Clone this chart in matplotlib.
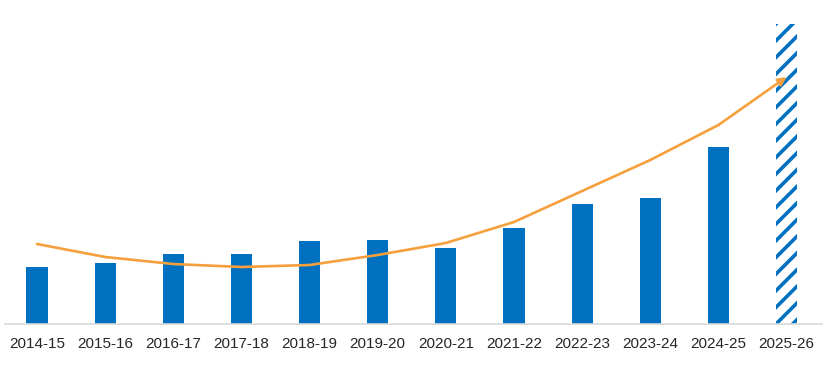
import matplotlib
matplotlib.use("Agg")
import matplotlib.pyplot as plt

plt.rcParams['font.family'] = ['Liberation Sans', 'DejaVu Sans']
plt.rcParams['hatch.linewidth'] = 2.6

# values (arbitrary units, baseline = 0)
years = ['2014-15', '2015-16', '2016-17', '2017-18', '2018-19', '2019-20',
         '2020-21', '2021-22', '2022-23', '2023-24', '2024-25', '2025-26']
values = [57, 61, 70, 70, 83, 84, 76, 96, 120, 126, 177, 300]
trend = [80, 67, 60, 57, 59, 69, 81, 102, 133, 164, 199, 247]

blue = '#0070C0'
orange = '#F5A03C'

fig = plt.figure(figsize=(8.27, 3.74), dpi=100)
ax = fig.add_axes([5 / 827, 50 / 374, 817 / 827, 300 / 374])

x = list(range(len(years)))
ax.bar(x[:-1], values[:-1], width=0.31, color=blue, zorder=2)
ax.bar(x[-1], values[-1], width=0.31, color='white', edgecolor=blue,
       hatch='//', linewidth=0, zorder=2)

# trend line with arrow head at the end
ax.plot(x[:-1], trend[:-1], color=orange, linewidth=1.9, zorder=3,
        solid_capstyle='round', solid_joinstyle='round')
ax.annotate('', xy=(x[-1], trend[-1]), xytext=(x[-2], trend[-2]),
            arrowprops=dict(arrowstyle='-|>', color=orange, lw=1.9,
                            mutation_scale=12, shrinkA=0, shrinkB=0),
            zorder=4)

ax.set_xlim(-0.47, 11.52)
ax.set_ylim(0, 300)
ax.set_xticks(x)
ax.set_xticklabels(years, fontsize=11, color='#262626')
ax.tick_params(axis='x', length=0, pad=9)
ax.set_yticks([])
for side in ['top', 'right', 'left']:
    ax.spines[side].set_visible(False)
ax.spines['bottom'].set_color('#d9d9d9')
ax.spines['bottom'].set_linewidth(1.2)

fig.savefig('out.png', dpi=100)
